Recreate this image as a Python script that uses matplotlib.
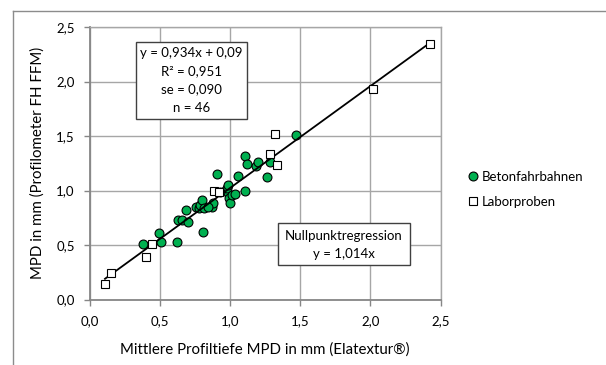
import matplotlib
matplotlib.use("Agg")
import matplotlib.pyplot as plt
from matplotlib.lines import Line2D
from matplotlib.patches import Rectangle
import numpy as np

plt.rcParams['font.family'] = ['Lato', 'DejaVu Sans']

# --- data -------------------------------------------------------------
beton_x = [0.375, 0.492, 0.506, 0.624, 0.630, 0.655, 0.700, 0.685, 0.808, 0.756,
           0.775, 0.785, 0.797, 0.813, 0.868, 0.880, 0.904, 0.960, 0.975, 0.987,
           0.994, 0.999, 1.010, 1.034, 1.058, 1.106, 1.106, 1.117, 1.184, 1.196,
           1.265, 1.284, 1.467, 0.930, 0.840]
beton_y = [0.507, 0.614, 0.531, 0.531, 0.733, 0.728, 0.715, 0.823, 0.618, 0.845,
           0.840, 0.870, 0.915, 0.838, 0.847, 0.884, 1.153, 1.000, 1.022, 1.052,
           0.935, 0.884, 0.960, 0.970, 1.129, 0.991, 1.319, 1.245, 1.227, 1.257,
           1.123, 1.257, 1.512, 0.990, 0.850]

labor_x = [0.107, 0.150, 0.399, 0.445, 0.887, 0.920, 1.284, 1.331, 1.320, 2.016, 2.423]
labor_y = [0.142, 0.240, 0.388, 0.507, 0.991, 0.985, 1.337, 1.236, 1.518, 1.932, 2.345]

slope = 0.934
intercept = 0.09

ticks = [0.0, 0.5, 1.0, 1.5, 2.0, 2.5]
tick_labels = ["0,0", "0,5", "1,0", "1,5", "2,0", "2,5"]

series_names = ["Betonfahrbahnen", "Laborproben"]
eq_lines = ["y = 0,934x + 0,09", "R² = 0,951", "se = 0,090", "n = 46"]
zero_lines = ["Nullpunktregression", "y = 1,014x"]
xlabel = "Mittlere Profiltiefe MPD in mm (Elatextur®)"
ylabel = "MPD in mm (Profilometer FH FFM)"

# --- figure -----------------------------------------------------------
W, H = 606, 365
fig = plt.figure(figsize=(W / 100, H / 100), dpi=100)
def fx(px): return px / W
def fy(py): return 1 - py / H

ax = fig.add_axes([fx(90), fy(299.5), fx(440.5) - fx(90), fy(27) - fy(299.5)])
FS = 9.5
FS_TITLE = 10.8
grid_c = "#a6a6a6"
axis_c = "#868686"

ax.set_xlim(0, 2.5)
ax.set_ylim(0, 2.5)
ax.set_xticks(ticks)
ax.set_yticks(ticks)
ax.set_xticklabels(tick_labels, fontsize=FS)
ax.set_yticklabels(tick_labels, fontsize=FS)
ax.grid(True, color=grid_c, lw=1.0)
ax.set_axisbelow(True)
for s in ["top", "right"]:
    ax.spines[s].set_color(grid_c)
    ax.spines[s].set_linewidth(1.0)
for s in ["left", "bottom"]:
    ax.spines[s].set_color(axis_c)
    ax.spines[s].set_linewidth(1.3)
ax.tick_params(axis="both", length=4, width=1.0, color=axis_c, pad=7)

# regression line
all_x = np.array(beton_x + labor_x)
lx = np.array([all_x.min(), all_x.max()])
ax.plot(lx, slope * lx + intercept, color="black", lw=1.3, zorder=4)

ax.plot(beton_x, beton_y, ls="none", marker="o", ms=6.4, mfc="#00b050",
        mec="black", mew=0.8, zorder=3)
ax.plot(labor_x, labor_y, ls="none", marker="s", ms=6.4, mfc="white",
        mec="black", mew=0.8, zorder=5)

# equation box
fig.patches.append(Rectangle((fx(136), fy(119)), fx(247) - fx(136), fy(42) - fy(119),
                             transform=fig.transFigure, fill=True, fc="white",
                             ec="#404040", lw=1.0, zorder=10))
for i, t in enumerate(eq_lines):
    fig.text(fx(191.5), fy(53 + 18.3 * i), t, ha="center", va="center",
             fontsize=FS, zorder=11)

# zero-point regression box
fig.patches.append(Rectangle((fx(278), fy(265)), fx(410) - fx(278), fy(223) - fy(265),
                             transform=fig.transFigure, fill=True, fc="white",
                             ec="#404040", lw=1.0, zorder=10))
for i, t in enumerate(zero_lines):
    fig.text(fx(344), fy(236 + 18.3 * i), t, ha="center", va="center",
             fontsize=FS, zorder=11)

# axis labels
fig.text(fx(265), fy(350), xlabel, ha="center", va="center", fontsize=FS_TITLE)
fig.text(fx(38), fy(163), ylabel, ha="center", va="center", rotation=90, fontsize=FS_TITLE)

# legend
handles = [Line2D([], [], ls="none", marker="o", ms=6.4, mfc="#00b050", mec="black", mew=0.8),
           Line2D([], [], ls="none", marker="s", ms=6.4, mfc="white", mec="black", mew=0.8)]
fig.legend(handles, series_names, loc="center left",
           bbox_to_anchor=(fx(468), fy(189.5)), frameon=False, fontsize=FS,
           handlelength=0.7, handletextpad=0.35, labelspacing=1.0,
           borderaxespad=0, borderpad=0)

# chart area border (top and left)
fig.add_artist(Line2D([fx(13), fx(13)], [fy(10.7), 0], transform=fig.transFigure,
                      color="#8c8c8c", lw=1.0))
fig.add_artist(Line2D([fx(13), 1], [fy(10.7), fy(10.7)], transform=fig.transFigure,
                      color="#8c8c8c", lw=1.0))

fig.savefig("out.png", dpi=100, facecolor="white")
